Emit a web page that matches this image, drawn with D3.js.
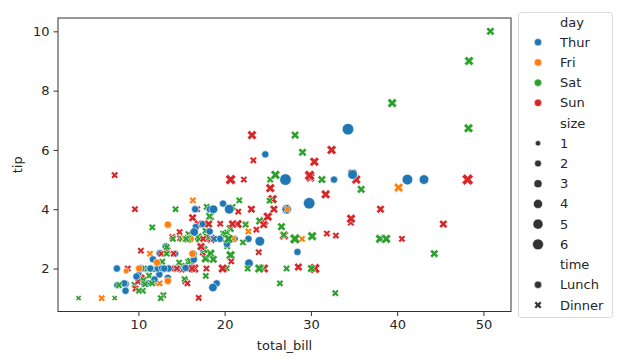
<!DOCTYPE html>
<html lang="en">
<head>
  <meta charset="UTF-8">
  <title>tips scatter</title>
  <script src="https://d3js.org/d3.v7.min.js"></script>
  <style>
    body { margin: 0; background: #fff; font-family: "DejaVu Sans", sans-serif; }
    svg { display: block; }
    text { fill: #262626; font-size: 13px; }
  </style>
</head>
<body>
  <script>
    // tips dataset, in row order
    const totalBill = [16.99,10.34,21.01,23.68,24.59,25.29,8.77,26.88,15.04,14.78,10.27,35.26,15.42,18.43,14.83,21.58,10.33,16.29,16.97,20.65,
      17.92,20.29,15.77,39.42,19.82,17.81,13.37,12.69,21.7,19.65,9.55,18.35,15.06,20.69,17.78,24.06,16.31,16.93,18.69,31.27,
      16.04,17.46,13.94,9.68,30.4,18.29,22.23,32.4,28.55,18.04,12.54,10.29,34.81,9.94,25.56,19.49,38.01,26.41,11.24,48.27,
      20.29,13.81,11.02,18.29,17.59,20.08,16.45,3.07,20.23,15.01,12.02,17.07,26.86,25.28,14.73,10.51,17.92,27.2,22.76,17.29,
      19.44,16.66,10.07,32.68,15.98,34.83,13.03,18.28,24.71,21.16,28.97,22.49,5.75,16.32,22.75,40.17,27.28,12.03,21.01,12.46,
      11.35,15.38,44.3,22.42,20.92,15.36,20.49,25.21,18.24,14.31,14.0,7.25,38.07,23.95,25.71,17.31,29.93,10.65,12.43,24.08,
      11.69,13.42,14.26,15.95,12.48,29.8,8.52,14.52,11.38,22.82,19.08,20.27,11.17,12.26,18.26,8.51,10.33,14.15,16.0,13.16,
      17.47,34.3,41.19,27.05,16.43,8.35,18.64,11.87,9.78,7.51,14.07,13.13,17.26,24.55,19.77,29.85,48.17,25.0,13.39,16.49,
      21.5,12.66,16.21,13.81,17.51,24.52,20.76,31.71,10.59,10.63,50.81,15.81,7.25,31.85,16.82,32.9,17.89,14.48,9.6,34.63,
      34.65,23.33,45.35,23.17,40.55,20.69,20.9,30.46,18.15,23.1,15.69,19.81,28.44,15.48,16.58,7.56,10.34,43.11,13.0,13.51,
      18.71,12.74,13.0,16.4,20.53,16.47,26.59,38.73,24.27,12.76,30.06,25.89,48.33,13.27,28.17,12.9,28.15,11.59,7.74,30.14,
      12.16,13.42,8.58,15.98,13.42,16.27,10.09,20.45,13.28,22.12,24.01,15.69,11.61,10.77,15.53,10.07,12.6,32.83,35.83,29.03,
      27.18,22.67,17.82,18.78];
    const tip = [1.01,1.66,3.5,3.31,3.61,4.71,2.0,3.12,1.96,3.23,1.71,5.0,1.57,3.0,3.02,3.92,1.67,3.71,3.5,3.35,
      4.08,2.75,2.23,7.58,3.18,2.34,2.0,2.0,4.3,3.0,1.45,2.5,3.0,2.45,3.27,3.6,2.0,3.07,2.31,5.0,
      2.24,2.54,3.06,1.32,5.6,3.0,5.0,6.0,2.05,3.0,2.5,2.6,5.2,1.56,4.34,3.51,3.0,1.5,1.76,6.73,
      3.21,2.0,1.98,3.76,2.64,3.15,2.47,1.0,2.01,2.09,1.97,3.0,3.14,5.0,2.2,1.25,3.08,4.0,3.0,2.71,
      3.0,3.4,1.83,5.0,2.03,5.17,2.0,4.0,5.85,3.0,3.0,3.5,1.0,4.3,3.25,4.73,4.0,1.5,3.0,1.5,
      2.5,3.0,2.5,3.48,4.08,1.64,4.06,4.29,3.76,4.0,3.0,1.0,4.0,2.55,4.0,3.5,5.07,1.5,1.8,2.92,
      2.31,1.68,2.5,2.0,2.52,4.2,1.48,2.0,2.0,2.18,1.5,2.83,1.5,2.0,3.25,1.25,2.0,2.0,2.0,2.75,
      3.5,6.7,5.0,5.0,2.3,1.5,1.36,1.63,1.73,2.0,2.5,2.0,2.74,2.0,2.0,5.14,5.0,3.75,2.61,2.0,
      3.5,2.5,2.0,2.0,3.0,3.48,2.24,4.5,1.61,2.0,10.0,3.16,5.15,3.18,4.0,3.11,2.0,2.0,4.0,3.55,
      3.68,5.65,3.5,6.5,3.0,5.0,3.5,2.0,3.5,4.0,1.5,4.19,2.56,2.02,4.0,1.44,2.0,5.0,2.0,2.0,
      4.0,2.01,2.0,2.5,4.0,3.23,3.41,3.0,2.03,2.23,2.0,5.16,9.0,2.5,6.5,1.1,3.0,1.5,1.44,3.09,
      2.2,3.48,1.92,3.0,1.58,2.5,2.0,3.0,2.72,2.88,2.0,3.0,3.39,1.47,3.0,1.25,1.0,1.17,4.67,5.92,
      2.0,2.0,1.75,3.0];
    // day and time as runs of consecutive rows
    const day = [].concat(
      Array(19).fill("Sun"), Array(22).fill("Sat"), Array(15).fill("Sun"), Array(21).fill("Sat"),
      Array(13).fill("Thur"), Array(12).fill("Fri"), Array(10).fill("Sat"), Array(5).fill("Sun"),
      Array(33).fill("Thur"), Array(18).fill("Sun"), Array(4).fill("Sat"), Array(19).fill("Sun"),
      Array(15).fill("Thur"), Array(14).fill("Sat"), Array(7).fill("Fri"), Array(16).fill("Sat"),
      ["Thur"]);
    const time = [].concat(
      Array(77).fill("Dinner"), Array(13).fill("Lunch"), Array(27).fill("Dinner"), Array(33).fill("Lunch"),
      Array(41).fill("Dinner"), Array(15).fill("Lunch"), Array(14).fill("Dinner"), Array(7).fill("Lunch"),
      Array(17).fill("Dinner"));
    const size = [2,3,3,2,4,4,2,4,2,2,2,4,2,4,2,2,3,3,3,3,
      2,2,2,4,2,4,2,2,2,2,2,4,2,4,2,3,3,3,3,3,
      3,2,2,2,4,2,2,4,3,2,2,2,4,2,4,2,4,2,2,4,
      2,2,2,4,3,3,2,1,2,2,2,3,2,2,2,2,2,4,2,2,
      2,2,1,2,2,4,2,2,2,2,2,2,2,2,2,4,2,2,2,2,
      2,2,3,2,2,2,2,2,2,2,2,1,3,2,3,2,4,2,2,4,
      2,2,2,2,2,6,2,2,2,3,2,2,2,2,2,2,2,2,2,2,
      2,6,5,6,2,2,3,2,2,2,2,2,3,4,4,5,6,4,2,4,
      4,2,3,2,2,3,2,4,2,2,3,2,2,2,2,2,2,2,2,2,
      4,2,3,4,2,5,3,5,3,3,2,2,2,2,2,2,2,4,2,2,
      3,2,2,2,4,3,3,4,2,2,3,4,4,2,3,2,5,2,2,4,
      2,2,1,3,2,2,2,4,2,2,4,3,2,2,2,2,2,2,3,3,
      2,2,2,2];

    const days = ["Thur", "Fri", "Sat", "Sun"];
    const sizes = [1, 2, 3, 4, 5, 6];
    const times = ["Lunch", "Dinner"];
    const xTicks = [10, 20, 30, 40, 50];
    const yTicks = [2, 4, 6, 8, 10];

    const W = 625, H = 363;
    const plot = { left: 58, right: 511, top: 18, bottom: 311.5 };
    const PT = 1.36; // px per point

    const svg = d3.select("body").append("svg").attr("width", W).attr("height", H);

    const xPad = (d3.max(totalBill) - d3.min(totalBill)) * 0.05;
    const yPad = (d3.max(tip) - d3.min(tip)) * 0.05;
    const x = d3.scaleLinear().domain([d3.min(totalBill) - xPad, d3.max(totalBill) + xPad]).range([plot.left, plot.right]);
    const y = d3.scaleLinear().domain([d3.min(tip) - yPad, d3.max(tip) + yPad]).range([plot.bottom, plot.top]);
    const color = d3.scaleOrdinal().domain(days).range(["#1f77b4", "#ff7f0e", "#2ca02c", "#d62728"]);
    const area = d3.scaleLinear().domain(d3.extent(sizes)).range([18, 72]); // pt^2
    const diam = s => Math.sqrt(area(s)) * PT;

    // matplotlib "X" marker, unit square
    const xVerts = [[0.25,0],[0.5,0.25],[0.75,0],[1,0.25],[0.75,0.5],[1,0.75],[0.75,1],[0.5,0.75],[0.25,1],[0,0.75],[0.25,0.5],[0,0.25]];
    function markerPath(kind, d) {
      if (kind === "Lunch") {
        const r = d / 2;
        return `M${-r},0A${r},${r} 0 1,0 ${r},0A${r},${r} 0 1,0 ${-r},0Z`;
      }
      return "M" + xVerts.map(([a, b]) => `${(a - 0.5) * d},${(0.5 - b) * d}`).join("L") + "Z";
    }

    // axes
    const gx = svg.append("g").attr("transform", `translate(0,${plot.bottom})`)
      .call(d3.axisBottom(x).tickValues(xTicks).tickSize(4.5).tickPadding(4));
    const gy = svg.append("g").attr("transform", `translate(${plot.left},0)`)
      .call(d3.axisLeft(y).tickValues(yTicks).tickSize(4.5).tickPadding(4));
    [gx, gy].forEach(g => {
      g.select(".domain").remove();
      g.selectAll("line").attr("stroke", "#333").attr("stroke-width", 1);
      g.selectAll("text").attr("font-size", 13).attr("font-family", "DejaVu Sans").attr("fill", "#262626");
    });

    // points
    const rows = d3.range(totalBill.length);
    svg.append("g").selectAll("path")
      .data(rows)
      .join("path")
      .attr("transform", i => `translate(${x(totalBill[i])},${y(tip[i])})`)
      .attr("d", i => markerPath(time[i], diam(size[i])))
      .attr("fill", i => color(day[i]))
      .attr("stroke", "#fff")
      .attr("stroke-width", 0.6);

    // frame
    svg.append("rect")
      .attr("x", plot.left).attr("y", plot.top)
      .attr("width", plot.right - plot.left).attr("height", plot.bottom - plot.top)
      .attr("fill", "none").attr("stroke", "#333").attr("stroke-width", 1);

    svg.append("text").attr("x", (plot.left + plot.right) / 2).attr("y", 350)
      .attr("text-anchor", "middle").text("total_bill");
    svg.append("text").attr("transform", `translate(22,${(plot.top + plot.bottom) / 2}) rotate(-90)`)
      .attr("text-anchor", "middle").text("tip");

    // legend
    const legend = svg.append("g");
    legend.append("rect")
      .attr("x", 518.5).attr("y", 12.5).attr("width", 94).attr("height", 305)
      .attr("rx", 3).attr("fill", "#fff").attr("fill-opacity", 0.8)
      .attr("stroke", "#d9d9d9").attr("stroke-width", 1);

    const entries = [{ label: "day" }]
      .concat(days.map(d => ({ label: d, fill: color(d), shape: "Lunch", d: 7.5 })))
      .concat([{ label: "size" }])
      .concat(sizes.map(s => ({ label: String(s), fill: "#333", shape: "Lunch", d: diam(s) * 0.95 })))
      .concat([{ label: "time" }])
      .concat(times.map(t => ({ label: t, fill: "#333", shape: t, d: 7.5 })));

    const ly = d3.scalePoint().domain(d3.range(entries.length)).range([22, 305]);
    const item = legend.selectAll("g.item")
      .data(entries)
      .join("g")
      .attr("class", "item")
      .attr("transform", (e, i) => `translate(0,${ly(i)})`);
    item.filter(e => e.fill)
      .append("path")
      .attr("transform", "translate(538,0)")
      .attr("d", e => markerPath(e.shape, e.d))
      .attr("fill", e => e.fill)
      .attr("stroke", "#fff")
      .attr("stroke-width", 0.6);
    item.append("text")
      .attr("x", 560).attr("dy", "0.35em")
      .text(e => e.label);
  </script>
</body>
</html>
